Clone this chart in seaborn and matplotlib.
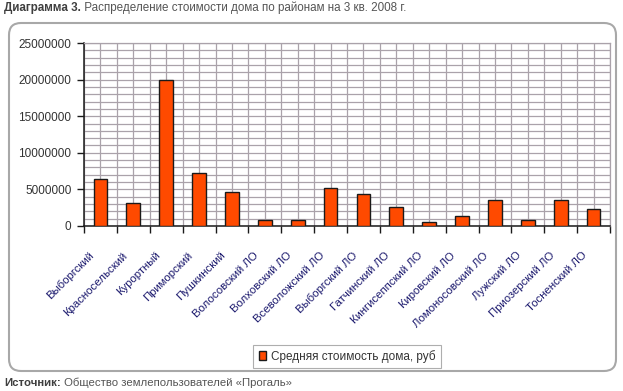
import numpy as np
import matplotlib
matplotlib.use("Agg")
import matplotlib.pyplot as plt
import seaborn as sns
from matplotlib.patches import FancyBboxPatch
from matplotlib.ticker import FuncFormatter, MultipleLocator, FixedLocator
from matplotlib.transforms import ScaledTranslation

districts = [
    "Выборгский", "Красносельский", "Курортный", "Приморский", "Пушкинский",
    "Волосовский ЛО", "Волховский ЛО", "Всеволожский ЛО", "Выборгский ЛО",
    "Гатчинский ЛО", "Кингисеппский ЛО", "Кировский ЛО", "Ломоносовский ЛО",
    "Лужский ЛО", "Приозерский ЛО", "Тосненский ЛО",
]
avg_price = [
    6400000, 3100000, 20000000, 7300000, 4600000,
    800000, 870000, 5250000, 4400000,
    2600000, 600000, 1300000, 3500000,
    820000, 3600000, 2300000,
]
series_name = "Средняя стоимость дома, руб"
title_bold = "Диаграмма 3."
title_rest = " Распределение стоимости дома по районам на 3 кв. 2008 г."
source_bold = "Источник:"
source_rest = " Общество землепользователей «Прогаль»"

sns.set_style("white")
plt.rcParams["font.family"] = ["Liberation Sans", "DejaVu Sans"]

W, H = 623, 391
fig, ax = plt.subplots(figsize=(W / 100, H / 100), dpi=100)
fig.subplots_adjust(left=84 / W, right=610 / W, top=1 - 43 / H, bottom=1 - 226 / H)

# rounded chart frame, kept behind the axes
frame = FancyBboxPatch((9 / 100, 20 / 100), 607 / 100, 348 / 100,
                       boxstyle="round,pad=0,rounding_size=0.12",
                       transform=fig.dpi_scale_trans, facecolor="none",
                       edgecolor="#a8a8a8", linewidth=1.5, zorder=-1)
fig.patches.append(frame)
ax.set_facecolor("none")

sns.barplot(x=districts, y=avg_price, color="#ff4a00", saturation=1,
            edgecolor="#1a1a1a", linewidth=1, width=0.42, label=series_name,
            ax=ax, zorder=3)
if ax.get_legend() is not None:
    ax.get_legend().remove()

grid_c = "#aaa2aa"
ax.set_xlim(-0.5, len(districts) - 0.5)
ax.set_ylim(0, 25000000)
ax.yaxis.set_major_locator(MultipleLocator(5000000))
ax.yaxis.set_minor_locator(MultipleLocator(1000000))
ax.xaxis.set_minor_locator(FixedLocator(np.arange(-0.5, len(districts), 1.0)))
ax.yaxis.set_major_formatter(FuncFormatter(lambda v, p: f"{int(v)}"))
ax.set_axisbelow(True)
ax.grid(which="both", color=grid_c, linewidth=0.9)

for side in ["top", "right"]:
    ax.spines[side].set_color(grid_c)
    ax.spines[side].set_linewidth(0.9)
for side in ["left", "bottom"]:
    ax.spines[side].set_color("#1a1a1a")
    ax.spines[side].set_linewidth(1.1)

ax.tick_params(axis="y", which="major", length=5, width=1, color="#1a1a1a",
               direction="out", labelsize=8.5, labelcolor="#333333", pad=4, left=True)
ax.tick_params(axis="y", which="minor", length=0)
ax.tick_params(axis="x", which="major", length=0, pad=20, labelsize=8.2,
               labelcolor="#1c1a6e")
ax.tick_params(axis="x", which="minor", length=5, width=1, color="#1a1a1a",
               direction="out", bottom=True)
ax.set_xlabel("")
ax.set_ylabel("")

for lbl in ax.get_xticklabels():
    lbl.set_rotation(45)
    lbl.set_ha("right")
    lbl.set_va("center")
    lbl.set_rotation_mode("anchor")
    lbl.set_transform(lbl.get_transform() + ScaledTranslation(-8 / 100, 0, fig.dpi_scale_trans))

handles, labels = ax.get_legend_handles_labels()
leg = fig.legend(handles, labels, loc="center", bbox_to_anchor=(347 / W, 1 - 356.5 / H),
                 frameon=True, fancybox=False, edgecolor="#9a9a9a", fontsize=8.5,
                 handlelength=0.6, handleheight=0.8, handletextpad=0.4,
                 borderpad=0.45, labelcolor="#333333")
leg.get_frame().set_linewidth(0.8)

t1 = fig.text(4 / W, 1 - 8 / H, title_bold, fontsize=8.4, fontweight="bold",
              color="#3f3f3f", ha="left", va="center")
ax.annotate(title_rest, xy=(1, 0), xycoords=t1, va="bottom", ha="left",
            fontsize=8.4, color="#555555", annotation_clip=False)
s1 = fig.text(4 / W, 1 - 383 / H, source_bold, fontsize=8.2, fontweight="bold",
              color="#3f3f3f", ha="left", va="center")
ax.annotate(source_rest, xy=(1, 0), xycoords=s1, va="bottom", ha="left",
            fontsize=8.2, color="#555555", annotation_clip=False)

fig.savefig("out.png", dpi=100)
